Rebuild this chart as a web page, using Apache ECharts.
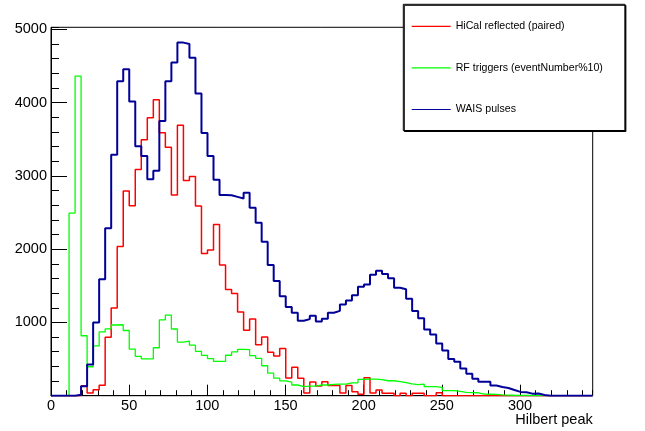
<!DOCTYPE html>
<html>
<head>
<meta charset="utf-8">
<script src="https://cdn.jsdelivr.net/npm/echarts@6/dist/echarts.min.js"></script>
<style>
  html, body { margin: 0; padding: 0; background: #fff; }
  #chart { width: 645px; height: 431px; }
</style>
</head>
<body>
<div id="chart"></div>
<script>
// Histogram range and binning (90 bins over 0 .. 346.5)
const xMin = 0;
const xMax = 346.5;
const yMax = 5027;

const seriesNames = ['HiCal reflected (paired)', 'RF triggers (eventNumber%10)', 'WAIS pulses'];

// Bin contents, one value per bin
const hicalCounts = [
  0, 0, 0, 0, 0, 132, 36, 82, 142, 798,
  1196, 2037, 2792, 2593, 3085, 3493, 3793, 4040, 3588, 3390,
  2740, 3690, 2937, 2990, 2590, 1941, 1989, 2335, 1783, 1450,
  1395, 1143, 892, 1047, 695, 800, 592, 542, 645, 240,
  389, 238, 36, 186, 133, 192, 140, 140, 36, 140,
  55, 20, 245, 36, 78, 32, 32, 0, 32, 0,
  32, 32, 0, 0, 41, 0, 0, 0, 0, 0,
  0, 0, 0, 0, 0, 0, 0, 0, 0, 0,
  0, 0, 0, 0, 0, 0, 0, 0, 0, 0
];

const rfCounts = [
  0, 0, 0, 2490, 4360, 818, 395, 680, 870, 912,
  965, 968, 890, 635, 537, 503, 503, 654, 1035, 1100,
  910, 730, 745, 690, 605, 550, 506, 468, 468, 552,
  598, 631, 628, 546, 510, 409, 307, 239, 203, 185,
  146, 123, 130, 132, 146, 146, 155, 159, 159, 175,
  177, 222, 227, 227, 218, 204, 204, 191, 177, 160,
  150, 158, 123, 123, 115, 68, 68, 60, 45, 42,
  40, 22, 20, 18, 10, 8, 6, 5, 4, 3,
  2, 0, 0, 0, 0, 0, 0, 0, 0, 0
];

const waisCounts = [
  0, 0, 0, 0, 12, 130, 425, 1000, 1590, 2285,
  3288, 4292, 4455, 4015, 3405, 3270, 2955, 3068, 3748, 4292,
  4548, 4818, 4798, 4612, 4122, 3585, 3270, 2946, 2740, 2736,
  2713, 2690, 2768, 2563, 2359, 2101, 1783, 1565, 1357, 1210,
  1131, 1022, 1045, 1090, 1013, 1049, 1131, 1158, 1245, 1299,
  1372, 1485, 1517, 1649, 1704, 1662, 1603, 1472, 1453, 1322,
  1156, 1058, 904, 836, 711, 618, 502, 463, 370, 300,
  232, 190, 190, 140, 118, 105, 78, 52, 46, 28,
  30, 10, 0, 0, 0, 0, 0, 0, 0, 0
];

// Turn bin contents into step-outline points: one point per lower bin edge,
// plus a closing point at the upper edge of the last bin.
function stepPoints(counts) {
  const w = (xMax - xMin) / counts.length;
  const pts = counts.map((v, i) => [xMin + i * w, v]);
  pts.push([xMax, counts[counts.length - 1]]);
  return pts;
}

const font = '"Liberation Sans", Arial, Helvetica, sans-serif';
const plainNumber = v => String(Math.round(v));

const chart = echarts.init(document.getElementById('chart'), null, { renderer: 'canvas' });

chart.setOption({
  animation: false,
  backgroundColor: '#fff',
  grid: {
    left: 51, right: 52.3, top: 27.3, bottom: 35.3,
    show: true, borderColor: '#000', borderWidth: 1, backgroundColor: 'transparent'
  },
  xAxis: [
    {
      type: 'value', position: 'bottom', min: xMin, max: xMax, interval: 50,
      axisLine: { show: true, onZero: false, lineStyle: { color: '#000', width: 1 } },
      axisTick: { show: true, inside: true, length: 11, lineStyle: { color: '#000', width: 1 } },
      axisLabel: { show: true, margin: 3, showMaxLabel: false, formatter: plainNumber,
                   color: '#000', fontSize: 14.5, fontFamily: font },
      splitLine: { show: false }
    },
    {
      type: 'value', position: 'bottom', min: xMin, max: xMax, interval: 10,
      axisLine: { show: false },
      axisTick: { show: true, inside: true, length: 5.5, lineStyle: { color: '#000', width: 1 } },
      axisLabel: { show: false },
      splitLine: { show: false }
    }
  ],
  yAxis: [
    {
      type: 'value', position: 'left', min: 0, max: yMax, interval: 1000,
      axisLine: { show: true, onZero: false, lineStyle: { color: '#000', width: 1 } },
      axisTick: { show: true, inside: true, length: 16, lineStyle: { color: '#000', width: 1 } },
      axisLabel: { show: true, margin: 4, showMinLabel: false, showMaxLabel: false, formatter: plainNumber,
                   color: '#000', fontSize: 14.5, fontFamily: font },
      splitLine: { show: false }
    },
    {
      type: 'value', position: 'left', min: 0, max: yMax, interval: 200,
      axisLine: { show: false },
      axisTick: { show: true, inside: true, length: 8, lineStyle: { color: '#000', width: 1 } },
      axisLabel: { show: false },
      splitLine: { show: false }
    }
  ],
  legend: {
    orient: 'vertical',
    left: 403.3, top: 4.3,
    padding: [16.5, 22, 15.5, 8.4],
    itemGap: 30.6,
    itemWidth: 39, itemHeight: 1.2,
    icon: 'rect',
    backgroundColor: '#fff',
    borderColor: '#000', borderWidth: 1,
    shadowColor: '#000', shadowOffsetX: 1, shadowOffsetY: 1, shadowBlur: 0,
    textStyle: { color: '#000', fontSize: 10.6, fontFamily: font },
    data: seriesNames
  },
  graphic: [
    {
      type: 'text', right: 52.3, top: 412,
      style: { text: 'Hilbert peak', fill: '#000', font: '14.5px ' + font }
    }
  ],
  series: [
    {
      name: seriesNames[0], type: 'line', step: 'end', symbol: 'none',
      xAxisIndex: 0, yAxisIndex: 0, z: 2,
      lineStyle: { color: '#ff0000', width: 1.5 }, itemStyle: { color: '#ff0000' },
      data: stepPoints(hicalCounts)
    },
    {
      name: seriesNames[1], type: 'line', step: 'end', symbol: 'none',
      xAxisIndex: 0, yAxisIndex: 0, z: 3,
      lineStyle: { color: '#00ff00', width: 1.3 }, itemStyle: { color: '#00ff00' },
      data: stepPoints(rfCounts)
    },
    {
      name: seriesNames[2], type: 'line', step: 'end', symbol: 'none',
      xAxisIndex: 0, yAxisIndex: 0, z: 4,
      lineStyle: { color: '#000099', width: 2 }, itemStyle: { color: '#000099' },
      data: stepPoints(waisCounts)
    }
  ]
});
</script>
</body>
</html>
